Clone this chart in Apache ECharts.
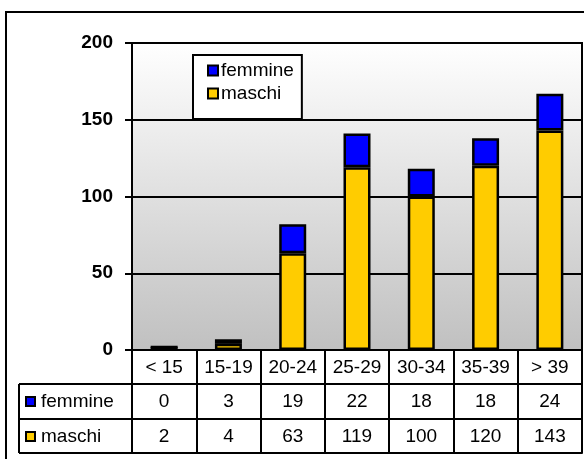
<!DOCTYPE html>
<html>
<head>
<meta charset="utf-8">
<script src="https://cdn.jsdelivr.net/npm/echarts@6/dist/echarts.min.js"></script>
<style>
html,body{margin:0;padding:0;background:#fff;}
#c{width:584px;height:459px;}
</style>
</head>
<body>
<div id="c"></div>
<script>
const categories = ['< 15', '15-19', '20-24', '25-29', '30-34', '35-39', '> 39'];
const femmine = [0, 3, 19, 22, 18, 18, 24];
const maschi = [2, 4, 63, 119, 100, 120, 143];
const seriesNames = ['femmine', 'maschi'];
const yMin = 0, yMax = 200, yStep = 50;

const FONT = '"Liberation Sans", Arial, sans-serif';
const BLUE = '#0000ff';
const GOLD = '#ffcc00';
const chart = echarts.init(document.getElementById('c'), null, {renderer: 'canvas'});

function tableAxis(offset, labels) {
  return {
    type: 'category',
    data: categories,
    gridIndex: 0,
    position: 'bottom',
    offset: offset,
    axisLine: {show: true, lineStyle: {color: '#000', width: 2}},
    axisTick: {show: false},
    splitLine: {show: false},
    axisLabel: labels ? {
      show: true, interval: 0, margin: 8,
      color: '#000', fontSize: 19, fontFamily: FONT,
      formatter: (v, i) => String(labels[i])
    } : {show: false}
  };
}

const option = {
  animation: false,
  backgroundColor: '#fff',
  grid: {
    left: 132, right: 2, top: 43, bottom: 109,
    show: true,
    borderColor: '#000', borderWidth: 2,
    outerBoundsMode: 'none',
    backgroundColor: {
      type: 'linear', x: 0, y: 0, x2: 0, y2: 1,
      colorStops: [{offset: 0, color: '#ffffff'}, {offset: 1, color: '#c0c0c0'}]
    }
  },
  legend: {
    orient: 'vertical',
    left: 193, top: 55,
    data: seriesNames,
    icon: 'rect',
    itemWidth: 10, itemHeight: 10,
    itemGap: 4,
    padding: [6, 8, 16, 14],
    backgroundColor: '#fff',
    borderColor: '#000', borderWidth: 2,
    textStyle: {color: '#000', fontSize: 19, fontFamily: FONT, padding: [0, 0, 0, -2]}
  },
  xAxis: [
    {
      type: 'category',
      data: categories,
      position: 'bottom',
      axisLine: {show: true, lineStyle: {color: '#000', width: 2}},
      axisTick: {show: true, interval: 0, length: 103, lineStyle: {color: '#000', width: 2}},
      axisLabel: {interval: 0, margin: 8, color: '#000', fontSize: 19, fontFamily: FONT},
      splitLine: {show: false}
    },
    tableAxis(34, femmine),
    tableAxis(69, maschi),
    tableAxis(103, null)
  ],
  yAxis: {
    type: 'value',
    min: yMin, max: yMax, interval: yStep,
    axisLine: {show: true, lineStyle: {color: '#000', width: 2}},
    axisTick: {show: true, length: 7, lineStyle: {color: '#000', width: 2}},
    axisLabel: {margin: 19, color: '#000', fontSize: 19, fontWeight: 'bold', fontFamily: FONT},
    splitLine: {show: true, lineStyle: {color: '#000', width: 2}}
  },
  series: [
    {
      name: 'maschi', type: 'bar', stack: 'tot', data: maschi,
      barWidth: 27,
      itemStyle: {color: GOLD, borderColor: '#000', borderWidth: 2.5}
    },
    {
      name: 'femmine', type: 'bar', stack: 'tot', data: femmine,
      barWidth: 27,
      itemStyle: {color: BLUE, borderColor: '#000', borderWidth: 2.5}
    }
  ],
  graphic: [
    {type: 'rect', silent: true, z: -10, shape: {x: 6, y: 12, width: 620, height: 500},
     style: {fill: 'none', stroke: '#000', lineWidth: 2}},
    {type: 'line', silent: true, shape: {x1: 19, y1: 384, x2: 132, y2: 384}, style: {stroke: '#000', lineWidth: 2}},
    {type: 'line', silent: true, shape: {x1: 19, y1: 419, x2: 132, y2: 419}, style: {stroke: '#000', lineWidth: 2}},
    {type: 'line', silent: true, shape: {x1: 19, y1: 453, x2: 132, y2: 453}, style: {stroke: '#000', lineWidth: 2}},
    {type: 'line', silent: true, shape: {x1: 19, y1: 384, x2: 19, y2: 453}, style: {stroke: '#000', lineWidth: 2}},
    {type: 'rect', silent: true, shape: {x: 26, y: 397, width: 9, height: 9}, style: {fill: BLUE, stroke: '#000', lineWidth: 2}},
    {type: 'text', silent: true, x: 41, y: 402, style: {text: seriesNames[0], fill: '#000', font: '19px ' + FONT, verticalAlign: 'middle'}},
    {type: 'rect', silent: true, shape: {x: 26, y: 432, width: 9, height: 9}, style: {fill: GOLD, stroke: '#000', lineWidth: 2}},
    {type: 'text', silent: true, x: 41, y: 437, style: {text: seriesNames[1], fill: '#000', font: '19px ' + FONT, verticalAlign: 'middle'}}
  ]
};
chart.setOption(option);
</script>
</body>
</html>
